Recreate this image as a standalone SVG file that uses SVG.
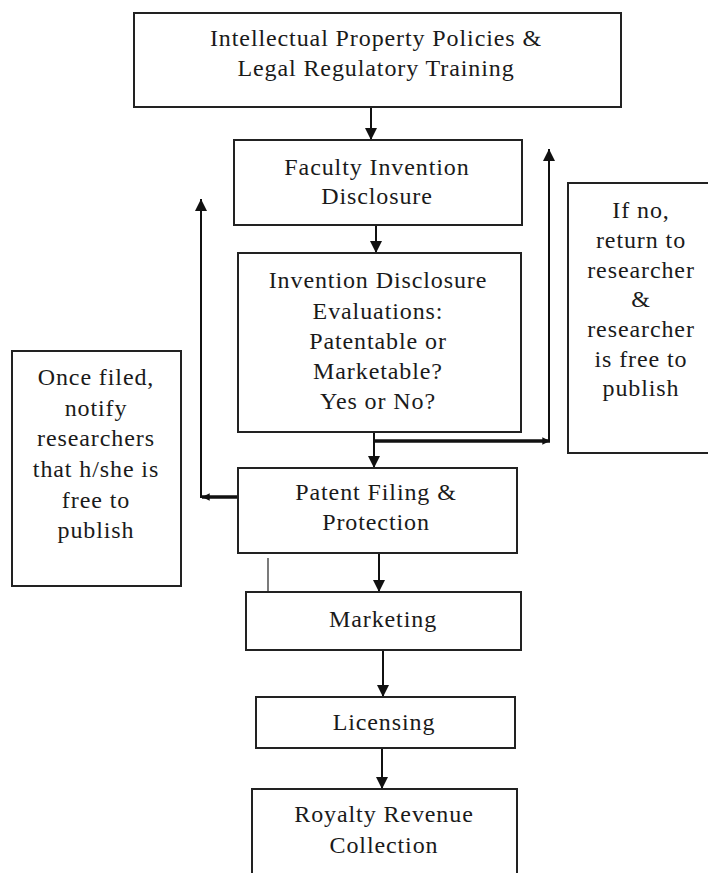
<svg xmlns="http://www.w3.org/2000/svg" width="708" height="873" viewBox="0 0 708 873">
<defs>
<style>
.box{fill:#fff;stroke:#222;stroke-width:2}
.t{font-family:"Liberation Serif","Times New Roman",serif;font-size:24px;letter-spacing:0.9px;fill:#1a1a1a;text-anchor:middle}
.c{fill:none;stroke:#111;stroke-width:2}
.thick{fill:none;stroke:#111;stroke-width:3.5}
.thin{fill:none;stroke:#333;stroke-width:1.3}
</style>
<marker id="ah" viewBox="0 0 10 10" refX="10" refY="5" markerWidth="6" markerHeight="7" markerUnits="strokeWidth" orient="auto">
<path d="M0,0 L10,5 L0,10 Z" fill="#111"/>
</marker>
<marker id="ahs" viewBox="0 0 10 10" refX="10" refY="5" markerWidth="2.2" markerHeight="2.2" markerUnits="strokeWidth" orient="auto">
<path d="M0,0 L10,5 L0,10 Z" fill="#111"/>
</marker>
</defs>
<rect width="708" height="873" fill="#fff"/>

<g id="connectors">
<line class="c" x1="371" y1="107" x2="371" y2="140" marker-end="url(#ah)"/>
<line class="c" x1="376" y1="225" x2="376" y2="253" marker-end="url(#ah)"/>
<line class="c" x1="374" y1="432" x2="374" y2="468" marker-end="url(#ah)"/>
<line class="thick" x1="374" y1="441" x2="550" y2="441" marker-end="url(#ahs)"/>
<line class="c" x1="549" y1="442" x2="549" y2="149" marker-end="url(#ah)"/>
<line class="thick" x1="238" y1="497" x2="202" y2="497" marker-end="url(#ahs)"/>
<line class="c" x1="201" y1="498" x2="201" y2="199" marker-end="url(#ah)"/>
<line class="c" x1="379" y1="553" x2="379" y2="592" marker-end="url(#ah)"/>
<line class="thin" x1="268" y1="558" x2="268" y2="592"/>
<line class="c" x1="383" y1="650" x2="383" y2="697" marker-end="url(#ah)"/>
<line class="c" x1="382" y1="748" x2="382" y2="789" marker-end="url(#ah)"/>
</g>

<g id="ip-training">
<rect class="box" x="134" y="13" width="487" height="94"/>
<text class="t" x="376" y="46">Intellectual Property Policies &amp;</text>
<text class="t" x="376" y="76">Legal Regulatory Training</text>
</g>

<g id="faculty-disclosure">
<rect class="box" x="234" y="140" width="288" height="85"/>
<text class="t" x="377" y="175">Faculty Invention</text>
<text class="t" x="377" y="204">Disclosure</text>
</g>

<g id="evaluation">
<rect class="box" x="238" y="253" width="283" height="179"/>
<text class="t" x="378" y="288">Invention Disclosure</text>
<text class="t" x="378" y="319">Evaluations:</text>
<text class="t" x="378" y="349">Patentable or</text>
<text class="t" x="378" y="379">Marketable?</text>
<text class="t" x="378" y="409">Yes or No?</text>
</g>

<g id="if-no">
<rect class="box" x="568" y="183" width="150" height="270"/>
<text class="t" x="641" y="218">If no,</text>
<text class="t" x="641" y="248">return to</text>
<text class="t" x="641" y="278">researcher</text>
<text class="t" x="641" y="307">&amp;</text>
<text class="t" x="641" y="337">researcher</text>
<text class="t" x="641" y="367">is free to</text>
<text class="t" x="641" y="396">publish</text>
</g>

<g id="once-filed">
<rect class="box" x="12" y="351" width="169" height="235"/>
<text class="t" x="96" y="385">Once filed,</text>
<text class="t" x="96" y="416">notify</text>
<text class="t" x="96" y="446">researchers</text>
<text class="t" x="96" y="477">that h/she is</text>
<text class="t" x="96" y="508">free to</text>
<text class="t" x="96" y="538">publish</text>
</g>

<g id="patent-filing">
<rect class="box" x="238" y="468" width="279" height="85"/>
<text class="t" x="376" y="500">Patent Filing &amp;</text>
<text class="t" x="376" y="530">Protection</text>
</g>

<g id="marketing">
<rect class="box" x="246" y="592" width="275" height="58"/>
<text class="t" x="383" y="627">Marketing</text>
</g>

<g id="licensing">
<rect class="box" x="256" y="697" width="259" height="51"/>
<text class="t" x="384" y="730">Licensing</text>
</g>

<g id="royalty">
<rect class="box" x="252" y="789" width="265" height="100"/>
<text class="t" x="384" y="822">Royalty Revenue</text>
<text class="t" x="384" y="853">Collection</text>
</g>
</svg>
